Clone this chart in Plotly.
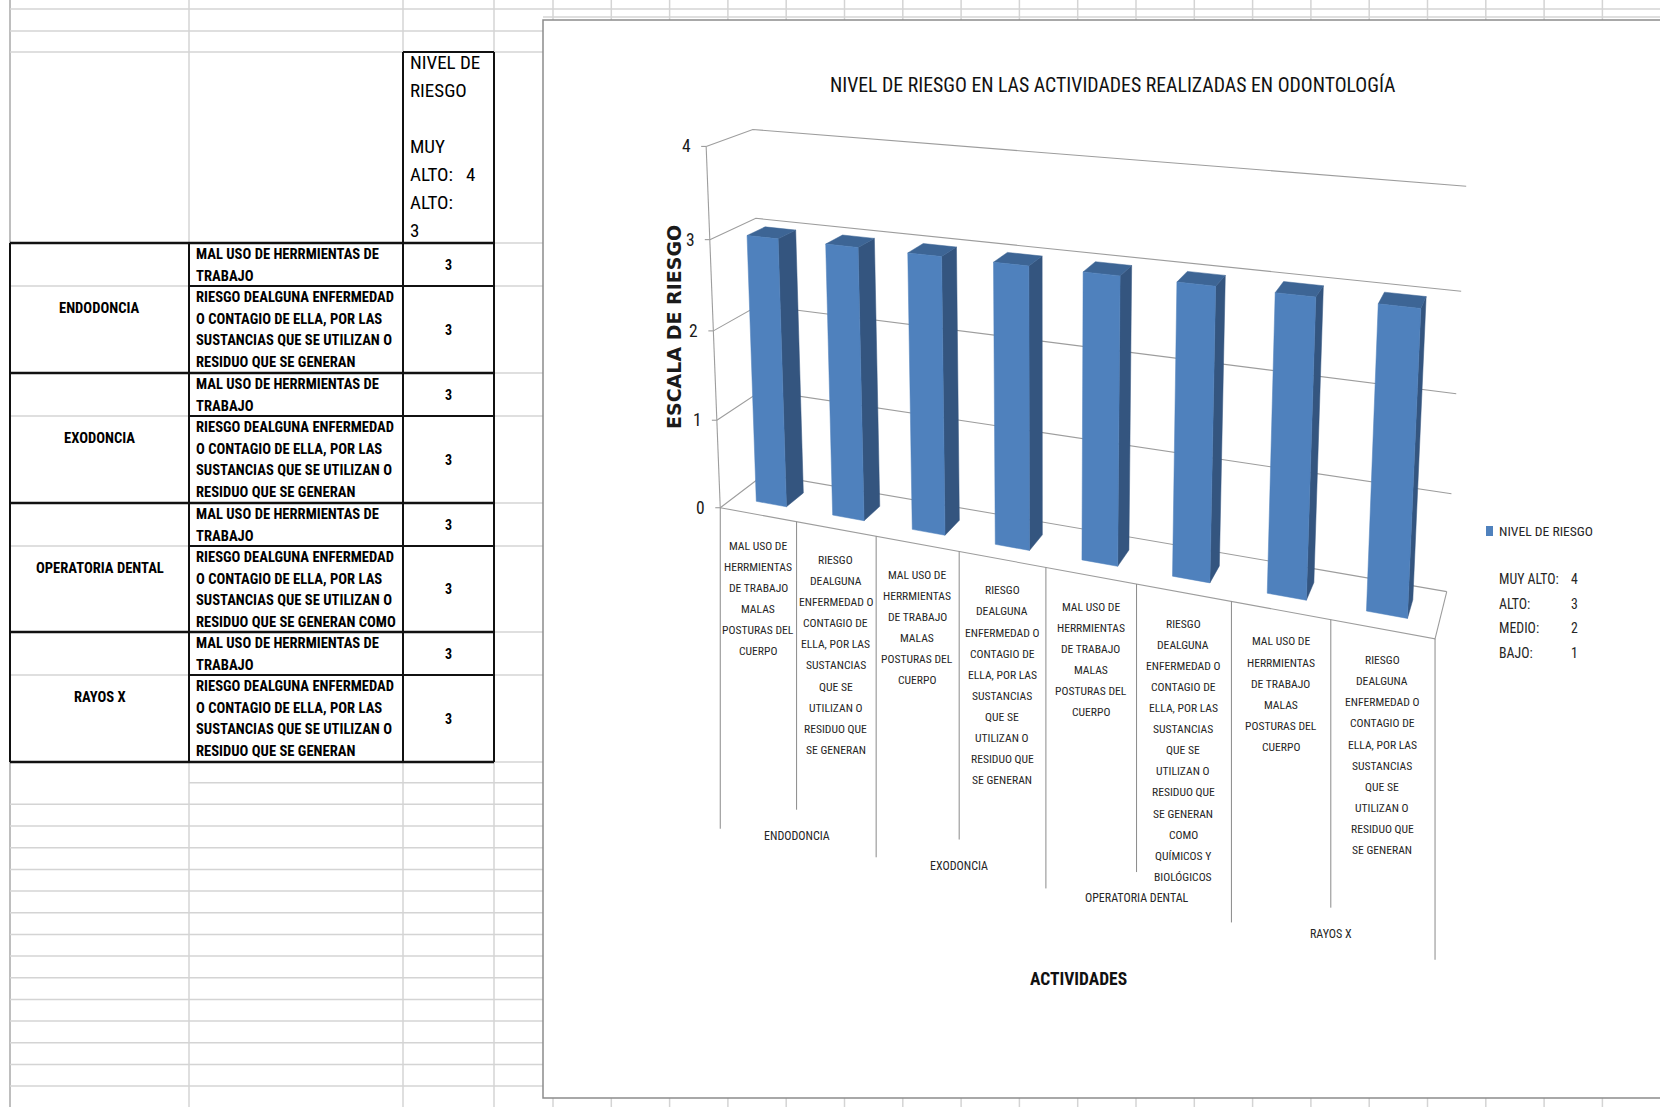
import numpy as np
import plotly.graph_objects as go

ANCHO, ALTO = 1660, 1107

# ---------------- datos ----------------
grupos = ["ENDODONCIA", "EXODONCIA", "OPERATORIA DENTAL", "RAYOS X"]
grupo_por_actividad = [0, 0, 1, 1, 2, 2, 3, 3]

lineas_mal_uso = ["MAL USO DE", "HERRMIENTAS", "DE TRABAJO", "MALAS", "POSTURAS DEL", "CUERPO"]
lineas_riesgo = ["RIESGO", "DEALGUNA", "ENFERMEDAD O", "CONTAGIO DE", "ELLA, POR LAS",
                 "SUSTANCIAS", "QUE SE", "UTILIZAN O", "RESIDUO QUE", "SE GENERAN"]
lineas_riesgo_op = lineas_riesgo + ["COMO", "QUÍMICOS Y", "BIOLÓGICOS"]
actividades = [lineas_mal_uso, lineas_riesgo, lineas_mal_uso, lineas_riesgo,
               lineas_mal_uso, lineas_riesgo_op, lineas_mal_uso, lineas_riesgo]

niveles = [3, 3, 3, 3, 3, 3, 3, 3]
ticks_y = [0, 1, 2, 3, 4]

serie = "NIVEL DE RIESGO"
escala_nombres = ["MUY ALTO:", "ALTO:", "MEDIO:", "BAJO:"]
escala_valores = [4, 3, 2, 1]

titulo = "NIVEL DE RIESGO EN LAS ACTIVIDADES REALIZADAS EN ODONTOLOGÍA"
titulo_y = "ESCALA DE RIESGO"
titulo_x = "ACTIVIDADES"

# texto de la hoja de cálculo
tabla_mal_uso = ["MAL USO DE HERRMIENTAS DE", "TRABAJO"]
tabla_riesgo = ["RIESGO DEALGUNA ENFERMEDAD", "O CONTAGIO DE ELLA, POR LAS",
                "SUSTANCIAS QUE SE UTILIZAN O", "RESIDUO QUE SE GENERAN"]
tabla_riesgo_op = tabla_riesgo[:3] + ["RESIDUO QUE SE GENERAN COMO"]
tabla_actividades = [tabla_mal_uso, tabla_riesgo, tabla_mal_uso, tabla_riesgo,
                     tabla_mal_uso, tabla_riesgo_op, tabla_mal_uso, tabla_riesgo]
encabezado_nivel = ["NIVEL DE", "RIESGO", "", "MUY", "ALTO:\u00a0\u00a0\u00a04", "ALTO:", "3"]

# ---------------- estilos ----------------
ESTRECHA = ("Liberation Sans Narrow, Arial Narrow, Roboto Condensed, "
            "DejaVu Sans Condensed, Liberation Sans, Arial, sans-serif")
AZUL = "#4F81BD"
AZUL_LADO = "#34557F"
AZUL_TAPA = "#3D6595"
GRIS_REJILLA = "#9D9D9D"
GRIS_HOJA = "#D4D4D4"

# ---------------- cámara del gráfico 3D ----------------
# puntos de referencia de la caja del gráfico: (categoría, valor, profundidad) -> píxel
caja_3d = [(k, 0, 0) for k in range(9)] + [
    (0, 1, 0), (0, 2, 0), (0, 3, 0), (0, 4, 0),
    (0, 0, 1), (0, 3, 1), (0, 4, 1),
    (8, 0, 1), (8, 1, 1), (8, 2, 1), (8, 3, 1), (8, 4, 1)]
caja_px = [(722, 506), (797, 519), (877, 535), (960, 550.5), (1046, 568.5),
           (1138, 585.5), (1230, 603.5), (1330, 621.5), (1435, 640),
           (719, 419), (713, 330), (708, 240), (703, 148),
           (760, 479), (758, 217), (755, 130),
           (1447, 588), (1452, 493), (1455, 394), (1461, 291), (1467, 186)]


def ajustar_camara(p3, p2):
    p3 = np.asarray(p3, float)
    p2 = np.asarray(p2, float)
    c2 = p2.mean(0)
    s2 = np.sqrt(2) / np.linalg.norm(p2 - c2, axis=1).mean()
    c3 = p3.mean(0)
    s3 = np.sqrt(3) / np.linalg.norm(p3 - c3, axis=1).mean()
    T2 = np.array([[s2, 0, -s2 * c2[0]], [0, s2, -s2 * c2[1]], [0, 0, 1]])
    T3 = np.diag([s3, s3, s3, 1.0])
    T3[:3, 3] = -s3 * c3
    q2 = (p2 - c2) * s2
    q3 = (p3 - c3) * s3
    filas = []
    for (X, Y, Z), (u, v) in zip(q3, q2):
        filas.append([X, Y, Z, 1, 0, 0, 0, 0, -u * X, -u * Y, -u * Z, -u])
        filas.append([0, 0, 0, 0, X, Y, Z, 1, -v * X, -v * Y, -v * Z, -v])
    _, _, vt = np.linalg.svd(np.array(filas))
    return np.linalg.inv(T2) @ vt[-1].reshape(3, 4) @ T3


CAMARA = ajustar_camara(caja_3d, caja_px)


def proy(x, y, z):
    h = CAMARA @ np.array([x, y, z, 1.0])
    return h[0] / h[2], h[1] / h[2]


def polilineas(grupos_puntos):
    xs, ys = [], []
    for pts in grupos_puntos:
        for p in pts:
            px, py = proy(*p)
            xs.append(px)
            ys.append(py)
        xs.append(None)
        ys.append(None)
    return xs, ys


n = len(niveles)
ymax = ticks_y[-1]

fig = go.Figure()

# rejilla de paredes (lateral + fondo)
gx, gy = polilineas([[(0, v, 0), (0, v, 1), (n, v, 1)] for v in ticks_y])
fig.add_trace(go.Scatter(x=gx, y=gy, mode="lines", line=dict(color=GRIS_REJILLA, width=1.1),
                         hoverinfo="skip"))
# suelo y eje vertical
ex, ey = polilineas([[(0, 0, 0), (n, 0, 0), (n, 0, 1)], [(0, 0, 0), (0, ymax, 0)]])
fig.add_trace(go.Scatter(x=ex, y=ey, mode="lines", line=dict(color=GRIS_REJILLA, width=1.1),
                         hoverinfo="skip"))
# marcas del eje
tx, ty = [], []
for v in ticks_y:
    px, py = proy(0, v, 0)
    tx += [px - 5, px, None]
    ty += [py, py, None]
fig.add_trace(go.Scatter(x=tx, y=ty, mode="lines", line=dict(color=GRIS_REJILLA, width=1.1),
                         hoverinfo="skip"))

# columnas 3D
ANCHO_BARRA = 0.4
PROF = (0.3, 0.7)
caras = {"lado": [], "tapa": [], "frente": []}
for i, val in enumerate(niveles):
    x0 = i + (1 - ANCHO_BARRA) / 2
    x1 = x0 + ANCHO_BARRA
    z0, z1 = PROF
    caras["lado"].append([(x1, 0, z0), (x1, 0, z1), (x1, val, z1), (x1, val, z0), (x1, 0, z0)])
    caras["tapa"].append([(x0, val, z0), (x1, val, z0), (x1, val, z1), (x0, val, z1), (x0, val, z0)])
    caras["frente"].append([(x0, 0, z0), (x1, 0, z0), (x1, val, z0), (x0, val, z0), (x0, 0, z0)])
for nombre, color in (("lado", AZUL_LADO), ("tapa", AZUL_TAPA), ("frente", AZUL)):
    cx, cy = polilineas(caras[nombre])
    fig.add_trace(go.Scatter(x=cx, y=cy, mode="lines", fill="toself", fillcolor=color,
                             line=dict(color=color, width=0.5), name=serie, hoverinfo="skip"))

# separadores del eje de categorías (en pantalla, hacia abajo)
LARGO_GRUPO, LARGO_SUB = 321, 288
sx, sy = [], []
for k in range(n + 1):
    px, py = proy(k, 0, 0)
    largo = LARGO_GRUPO if k % 2 == 0 else LARGO_SUB
    sx += [px, px, None]
    sy += [py, py + largo, None]
fig.add_trace(go.Scatter(x=sx, y=sy, mode="lines", line=dict(color="#8A8A8A", width=1),
                         hoverinfo="skip"))

anotaciones = []


def texto(x, y, t, size, family=ESTRECHA, color="#000000", xanchor="center", bold=False,
          angle=0):
    anotaciones.append(dict(
        x=x, y=y, xref="x", yref="y", text=f"<b>{t}</b>" if bold else t, showarrow=False,
        xanchor=xanchor, yanchor="middle", textangle=angle,
        font=dict(family=family, size=size, color=color)))


# etiquetas de categoría
for i, lineas in enumerate(actividades):
    px, py = proy(i + 0.5, 0, 0)
    for k, l in enumerate(lineas):
        texto(px, py + 31 + 21.1 * k, l, 11.6, color="#262626")
# etiquetas de grupo
for g, nombre in enumerate(grupos):
    px, py = proy(2 * g + 1, 0, 0)
    texto(px, py + 314, nombre, 12, color="#262626")
# etiquetas del eje vertical
for v in ticks_y:
    px, py = proy(0, v, 0)
    texto(px - 13, py, str(v), 17.5, color="#1A1A1A", xanchor="right")

texto(1112, 85, titulo, 19.8, color="#111111")
texto(674, 327, titulo_y, 19, family="DejaVu Sans", bold=True, angle=-90, color="#1A1A1A")
texto(1078, 979, titulo_x, 17.5, bold=True, color="#111111")

# leyenda
texto(1497, 531, serie, 13.6, color="#262626", xanchor="left")
for k, (nom, val) in enumerate(zip(escala_nombres, escala_valores)):
    y = 579 + 24.7 * k
    texto(1497, y, nom, 13.8, color="#262626", xanchor="left")
    texto(1574, y, str(val), 13.8, color="#262626")

# ---------------- hoja de cálculo ----------------
formas = []


def raya(x0, y0, x1, y1, color=GRIS_HOJA, width=1.5):
    formas.append(dict(type="line", x0=x0, y0=y0, x1=x1, y1=y1, xref="x", yref="y",
                       line=dict(color=color, width=width), layer="below"))


COLS = [10, 189, 403, 494]
BORDE_GRAFICO = 543
SECCIONES = [243, 373, 503, 632, 762]
SUBFILAS = [286, 416, 546, 675]

# columnas de la hoja
for x in COLS[1:]:
    raya(x, 0, x, ALTO)
raya(COLS[0], 0, COLS[0], ALTO, color="#A8A8A8")
# filas de la hoja a la izquierda del gráfico
for y in [9, 31, 52] + SECCIONES + SUBFILAS:
    raya(COLS[0], y, BORDE_GRAFICO, y)
y = 782.7
raya(COLS[1], y, BORDE_GRAFICO, y)
y += 21.67
while y < ALTO:
    raya(COLS[0], y, BORDE_GRAFICO, y)
    y += 21.67
# fila superior y columnas sobre/bajo el gráfico
raya(BORDE_GRAFICO, 9, ANCHO, 9)
raya(BORDE_GRAFICO, 17, ANCHO, 17)
x = 553.0
while x < ANCHO:
    raya(x, 0, x, 20)
    raya(x, 1098, x, ALTO)
    x += 58.3

# bordes de la tabla
NEGRO = "#111111"
raya(COLS[2], 52, COLS[3], 52, NEGRO, 2)
raya(COLS[2], 52, COLS[2], 762, NEGRO, 2)
raya(COLS[3], 52, COLS[3], 762, NEGRO, 2)
for y in SECCIONES:
    raya(COLS[0], y, COLS[3], y, NEGRO, 2.5)
for y in SUBFILAS:
    raya(COLS[1], y, COLS[3], y, NEGRO, 2)
raya(COLS[0], 243, COLS[0], 762, NEGRO, 2)
raya(COLS[1], 243, COLS[1], 762, NEGRO, 2)

# contenido de la tabla
for k, l in enumerate(encabezado_nivel):
    if l:
        texto(408, 62 + 28.1 * k, l, 19, xanchor="left")
for g, nombre in enumerate(grupos):
    texto((COLS[0] + COLS[1]) / 2, (SECCIONES[g] + SECCIONES[g + 1]) / 2, nombre, 14.6, bold=True)
for i, lineas in enumerate(tabla_actividades):
    g = grupo_por_actividad[i]
    top = SECCIONES[g] if i % 2 == 0 else SUBFILAS[g]
    bot = SUBFILAS[g] if i % 2 == 0 else SECCIONES[g + 1]
    for k, l in enumerate(lineas):
        texto(194, top + 11 + 21.6 * k, l, 14.6, bold=True, xanchor="left")
    texto((COLS[2] + COLS[3]) / 2, (top + bot) / 2, str(niveles[i]), 14, bold=True)

# marco del gráfico
formas.append(dict(type="rect", x0=BORDE_GRAFICO, y0=20, x1=ANCHO + 20, y1=1098, xref="x",
                   yref="y", fillcolor="white", line=dict(color="#8C8C8C", width=1.5),
                   layer="below"))
# cuadro de la leyenda
formas.append(dict(type="rect", x0=1486, y0=526, x1=1493, y1=536, xref="x", yref="y",
                   fillcolor=AZUL, line=dict(width=0), layer="above"))

fig.update_layout(
    width=ANCHO, height=ALTO, margin=dict(l=0, r=0, t=0, b=0),
    paper_bgcolor="white", plot_bgcolor="white", showlegend=False, hovermode=False,
    xaxis=dict(range=[0, ANCHO], visible=False, fixedrange=True),
    yaxis=dict(range=[ALTO, 0], visible=False, fixedrange=True),
    shapes=formas, annotations=anotaciones,
)

fig.write_html("out.html")
